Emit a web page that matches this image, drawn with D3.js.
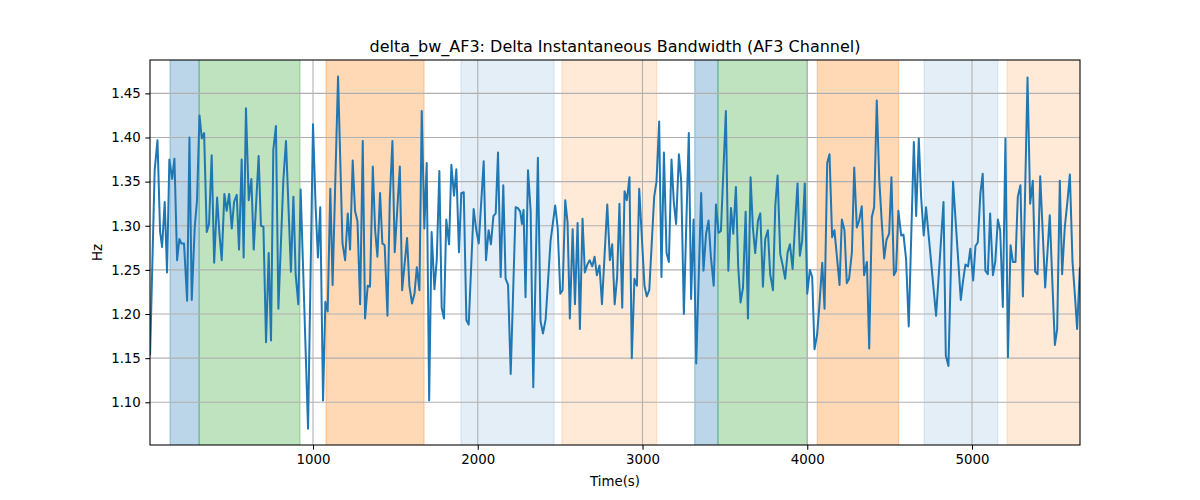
<!DOCTYPE html>
<html>
<head>
<meta charset="utf-8">
<script src="https://cdn.jsdelivr.net/npm/d3@7"></script>
<style>
  body { margin: 0; background: #fff; }
  text { font-family: 'DejaVu Sans', sans-serif; }
</style>
</head>
<body>
<div id="chart"></div>
<script>
// Time (s) and delta bandwidth (Hz)
var times = [
  11, 39, 56, 72, 84, 100, 114, 128, 145, 159, 175, 189, 201, 217, 236, 250, 264, 282, 296, 311,
  325, 339, 355, 369, 385, 400, 418, 432, 446, 462, 476, 491, 507, 521, 537, 551, 567,
  579, 593, 610, 626, 640, 670, 684, 699, 715, 731, 745, 759, 775, 790, 820, 836, 866, 881, 895,
  911, 925, 970, 1000, 1016, 1030, 1044, 1061, 1075, 1089, 1105, 1119,
  1152, 1179, 1195, 1211, 1225, 1241, 1255, 1270, 1286, 1302, 1316, 1332, 1346, 1363, 1377, 1391,
  1407, 1421, 1435, 1452, 1466, 1482, 1496, 1527, 1541, 1571, 1585, 1601, 1616, 1630, 1646, 1660,
  1676, 1690, 1705,
  1720, 1737, 1751, 1767, 1781, 1795, 1809, 1826, 1840, 1856, 1870, 1886, 1900, 1915, 1931, 1945,
  1975, 1991, 2006, 2036, 2050, 2066, 2080, 2095, 2109, 2123, 2139, 2155, 2169, 2184, 2200, 2230,
  2244, 2258, 2268, 2278,
  2290, 2305, 2321, 2337, 2365, 2381, 2396, 2412, 2442, 2470, 2485, 2501, 2515, 2531, 2545, 2559,
  2576, 2590, 2606, 2620, 2636, 2650, 2665, 2679, 2695, 2709, 2723, 2739, 2754, 2786, 2802, 2816, 2831,
  2846, 2860, 2877, 2891, 2905, 2921, 2935, 2951, 2966, 2980, 3012, 3026, 3041, 3071, 3085, 3101,
  3115, 3130, 3146, 3160, 3176, 3190, 3204, 3221, 3235, 3251, 3281, 3295, 3310, 3326, 3356, 3370, 3386,
  3401, 3415, 3432, 3446, 3462, 3476, 3506, 3521, 3537, 3551, 3567, 3581, 3595, 3610, 3626, 3640,
  3656, 3670, 3684, 3701, 3715, 3731, 3745, 3761, 3775, 3792, 3806, 3820, 3836, 3850, 3866, 3881,
  3895, 3911, 3925, 3941, 3955,
  3969, 3985, 4000, 4016, 4030, 4044, 4060, 4074, 4091, 4105, 4121, 4135, 4151, 4165, 4182, 4196,
  4210, 4226, 4240, 4254, 4271, 4285, 4301, 4315, 4331, 4345, 4362, 4376, 4392, 4406, 4422, 4437,
  4453, 4467, 4481, 4497, 4511, 4526,
  4539, 4553, 4570, 4584, 4600, 4616, 4647, 4661, 4677, 4691, 4707, 4721, 4782, 4827, 4841, 4857,
  4885, 4932, 4946, 4960, 4976, 4990, 5007, 5021, 5035, 5051, 5065, 5081,
  5096, 5110, 5127, 5141, 5157, 5171, 5187, 5203, 5218, 5234, 5248, 5264, 5278, 5294, 5309, 5337,
  5353, 5369, 5383, 5398, 5414, 5428, 5444, 5458, 5472, 5489, 5503, 5517, 5533, 5547, 5563, 5580,
  5594, 5610, 5624, 5638, 5655
];
var values = [
  1.153, 1.363, 1.397, 1.293, 1.276, 1.327, 1.247, 1.375, 1.353, 1.376, 1.261, 1.285, 1.280, 1.280, 1.215, 1.400, 1.216, 1.298, 1.329, 1.425,
  1.399, 1.405, 1.293, 1.302, 1.380, 1.258, 1.332, 1.291, 1.261, 1.336, 1.317, 1.336, 1.297, 1.327, 1.335, 1.273, 1.375,
  1.264, 1.433, 1.329, 1.353, 1.273, 1.379, 1.300, 1.299, 1.168, 1.269, 1.170, 1.386, 1.413, 1.206, 1.352, 1.396, 1.248, 1.333, 1.244,
  1.211, 1.341, 1.070, 1.415, 1.321, 1.264, 1.321, 1.102, 1.214, 1.203, 1.342, 1.233,
  1.469, 1.280, 1.261, 1.314, 1.273, 1.374, 1.317, 1.305, 1.211, 1.396, 1.195, 1.232, 1.231, 1.367, 1.295, 1.265,
  1.337, 1.280, 1.278, 1.198, 1.329, 1.396, 1.270, 1.367, 1.227, 1.286, 1.232, 1.212, 1.223, 1.253, 1.227, 1.430,
  1.297, 1.371, 1.102,
  1.293, 1.228, 1.261, 1.362, 1.207, 1.195, 1.307, 1.279, 1.369, 1.334, 1.364, 1.270, 1.337, 1.338, 1.193, 1.188,
  1.319, 1.295, 1.280, 1.373, 1.261, 1.295, 1.279, 1.311, 1.314, 1.383, 1.242, 1.346, 1.240, 1.233, 1.132, 1.321,
  1.320, 1.316, 1.302, 1.318,
  1.219, 1.363, 1.317, 1.117, 1.377, 1.192, 1.178, 1.194, 1.283, 1.323, 1.298, 1.223, 1.227, 1.329, 1.304, 1.195,
  1.296, 1.211, 1.303, 1.183, 1.308, 1.247, 1.256, 1.261, 1.254, 1.265, 1.244, 1.255, 1.211, 1.324, 1.261, 1.279, 1.211,
  1.242, 1.325, 1.207, 1.339, 1.329, 1.355, 1.150, 1.240, 1.232, 1.342, 1.232, 1.220, 1.227, 1.333, 1.350, 1.418,
  1.242, 1.383, 1.269, 1.259, 1.375, 1.327, 1.302, 1.381, 1.350, 1.200, 1.405, 1.217, 1.307, 1.144, 1.337, 1.249, 1.291,
  1.306, 1.265, 1.232, 1.324, 1.292, 1.294, 1.430, 1.249, 1.320, 1.291, 1.344, 1.253, 1.213, 1.230, 1.316, 1.195,
  1.355, 1.298, 1.269, 1.306, 1.314, 1.231, 1.285, 1.295, 1.245, 1.227, 1.323, 1.357, 1.268, 1.256, 1.240, 1.270,
  1.279, 1.251, 1.298, 1.348, 1.266,
  1.283, 1.348, 1.223, 1.250, 1.242, 1.160, 1.177, 1.211, 1.258, 1.206, 1.371, 1.381, 1.287, 1.295, 1.261, 1.233,
  1.307, 1.295, 1.235, 1.240, 1.270, 1.366, 1.298, 1.306, 1.322, 1.244, 1.259, 1.161, 1.310, 1.321, 1.442, 1.352,
  1.302, 1.263, 1.284, 1.291, 1.355, 1.244,
  1.249, 1.317, 1.289, 1.290, 1.262, 1.186, 1.395, 1.311, 1.399, 1.333, 1.289, 1.321, 1.198, 1.327, 1.153, 1.141,
  1.350, 1.216, 1.238, 1.256, 1.254, 1.274, 1.238, 1.277, 1.281, 1.337, 1.359, 1.249,
  1.245, 1.314, 1.244, 1.259, 1.307, 1.295, 1.208, 1.399, 1.151, 1.278, 1.259, 1.259, 1.333, 1.346, 1.220, 1.468,
  1.325, 1.351, 1.248, 1.245, 1.356, 1.298, 1.230, 1.270, 1.312, 1.230, 1.165, 1.183, 1.351, 1.245, 1.298, 1.329,
  1.358, 1.259, 1.223, 1.183, 1.253
];

// shaded time windows
var spanStart = [132, 309, 1079, 1898, 2511, 3317, 3458, 4061, 4710, 5213];
var spanEnd   = [309, 921, 1674, 2463, 3086, 3458, 4000, 4555, 5156, 5700];
var spanKind  = ['blue', 'green', 'orange', 'paleblue', 'paleorange', 'blue', 'green', 'orange', 'paleblue', 'paleorange'];

var xTicks = [1000, 2000, 3000, 4000, 5000];
var yTicks = [1.10, 1.15, 1.20, 1.25, 1.30, 1.35, 1.40, 1.45];

var spanColor = {blue: '#1f77b4', green: '#2ca02c', orange: '#ff7f0e', paleblue: '#1f77b4', paleorange: '#ff7f0e'};
var spanAlpha = {blue: 0.3, green: 0.3, orange: 0.3, paleblue: 0.12, paleorange: 0.16};

var margin = {top: 60, right: 120, bottom: 55, left: 150},
  width = 1200 - margin.left - margin.right,
  height = 500 - margin.top - margin.bottom;

var svg = d3.select('#chart')
  .append('svg')
  .attr('width', 1200)
  .attr('height', 500)
  .append('g')
  .attr('transform', 'translate(' + margin.left + ',' + margin.top + ')');

var x = d3.scaleLinear().domain([10.6, 5655.5]).range([0, width]);
var y = d3.scaleLinear().domain([1.0516, 1.4878]).range([height, 0]);

svg.append('clipPath').attr('id', 'clip')
  .append('rect').attr('width', width).attr('height', height);

var plot = svg.append('g').attr('clip-path', 'url(#clip)');

// spans
plot.selectAll('rect.span')
  .data(spanStart.map((s, i) => ({s: s, e: spanEnd[i], k: spanKind[i]})))
  .enter()
  .append('rect')
  .attr('x', d => x(d.s))
  .attr('width', d => x(d.e) - x(d.s))
  .attr('y', -5)
  .attr('height', height + 10)
  .style('fill', d => spanColor[d.k])
  .style('fill-opacity', d => spanAlpha[d.k])
  .style('stroke', d => spanColor[d.k])
  .style('stroke-opacity', d => spanAlpha[d.k])
  .style('stroke-width', 1.3);

// grid
plot.selectAll('line.gx').data(xTicks).enter().append('line')
  .attr('x1', d => x(d)).attr('x2', d => x(d))
  .attr('y1', 0).attr('y2', height)
  .style('stroke', '#b0b0b0').style('stroke-width', 1.07);
plot.selectAll('line.gy').data(yTicks).enter().append('line')
  .attr('x1', 0).attr('x2', width)
  .attr('y1', d => y(d)).attr('y2', d => y(d))
  .style('stroke', '#b0b0b0').style('stroke-width', 1.07);

// series
var line = d3.line()
  .x((d, i) => x(times[i]))
  .y(d => y(d));

plot.append('path')
  .datum(values)
  .attr('d', line)
  .style('fill', 'none')
  .style('stroke', '#1f77b4')
  .style('stroke-width', 2)
  .style('stroke-linejoin', 'round');

// axes
var xAxis = svg.append('g')
  .attr('transform', 'translate(0,' + height + ')')
  .call(d3.axisBottom(x).tickValues(xTicks).tickFormat(d3.format('d')).tickSize(4.67).tickPadding(4.5));
var yAxis = svg.append('g')
  .call(d3.axisLeft(y).tickValues(yTicks).tickFormat(d3.format('.2f')).tickSize(4.67).tickPadding(4.5));

[xAxis, yAxis].forEach(function(a) {
  a.select('.domain').remove();
  a.selectAll('line').style('stroke', '#000').style('stroke-width', 1.07);
  a.selectAll('text').style('font-size', '13.33px').style('fill', '#000')
    .style('font-family', "'DejaVu Sans', sans-serif");
});

// frame
svg.append('rect')
  .attr('width', width).attr('height', height)
  .style('fill', 'none').style('stroke', '#000').style('stroke-width', 1.07);

// labels
svg.append('text')
  .attr('text-anchor', 'middle')
  .attr('x', width / 2)
  .attr('y', -8)
  .style('font-size', '16px')
  .text('delta_bw_AF3: Delta Instantaneous Bandwidth (AF3 Channel)');

svg.append('text')
  .attr('text-anchor', 'middle')
  .attr('x', width / 2)
  .attr('y', height + 41)
  .style('font-size', '13.33px')
  .text('Time(s)');

svg.append('text')
  .attr('text-anchor', 'middle')
  .attr('transform', 'rotate(-90)')
  .attr('x', -height / 2)
  .attr('y', -48)
  .style('font-size', '13.33px')
  .text('Hz');
</script>
</body>
</html>
